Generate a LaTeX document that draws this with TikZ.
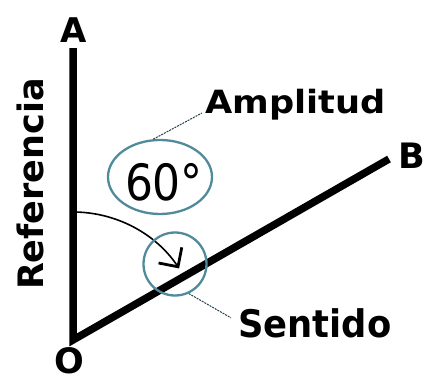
\documentclass[tikz,border=0pt]{standalone}
\usepackage{fontspec}
\setmainfont{DejaVu Sans}
\usetikzlibrary{arrows.meta,shapes.geometric}
\definecolor{ringblue}{RGB}{80,138,155}
\definecolor{leader}{RGB}{40,62,72}
\begin{document}
\begin{tikzpicture}[x=1pt,y=-1pt,
  ray/.style={line width=7.5pt,line join=miter},
  lbl/.style={font=\bfseries\fontsize{#1}{#1}\selectfont,inner sep=0pt},
  ring/.style={draw=ringblue,line width=2.3pt,inner sep=0pt},
  leadline/.style={draw=leader,line width=1pt,dash pattern=on 2pt off 1pt}]
\useasboundingbox (0,0) rectangle (424,383);
\coordinate (A) at (73,48);
\coordinate (O) at (73,340);
\coordinate (B) at (389,159);
\draw[ray] (A) -- (O) -- (B);
\node[lbl=34] (labA) at (74,30) {A};
\node[lbl=35] (labO) at (69,361) {O};
\node[lbl=35] (labB) at (412,156) {B};
\node[lbl=35,rotate=90] (ref) at (30,184) {Referencia};
% sense of the turn
\coordinate (start) at (73,212);
\draw[line width=1.6pt,-{Straight Barb[length=14pt,width=28pt,line width=2.8pt]}] (start) arc[start angle=-90,end angle=-34,radius=128];
\node[ring,ellipse,minimum width=104pt,minimum height=74pt] (amp ring) at (160,177) {};
\node[font=\fontsize{50}{50}\selectfont,xscale=0.88,inner sep=0pt] (deg) at (164,182) {60°};
\node[ring,circle,minimum size=63pt] (turn ring) at (175,264) {};
\node[lbl=32,xscale=1.1,anchor=base west] (amp) at (205,113) {Amplitud};
\node[lbl=38,xscale=0.93,anchor=base west] (sen) at (238,337) {Sentido};
\draw[leadline] (amp ring.100) -- ([xshift=-3pt]amp.base west);
\draw[leadline] (turn ring.-65) -- ([xshift=-7pt,yshift=5pt]sen.west);
\end{tikzpicture}
\end{document}
